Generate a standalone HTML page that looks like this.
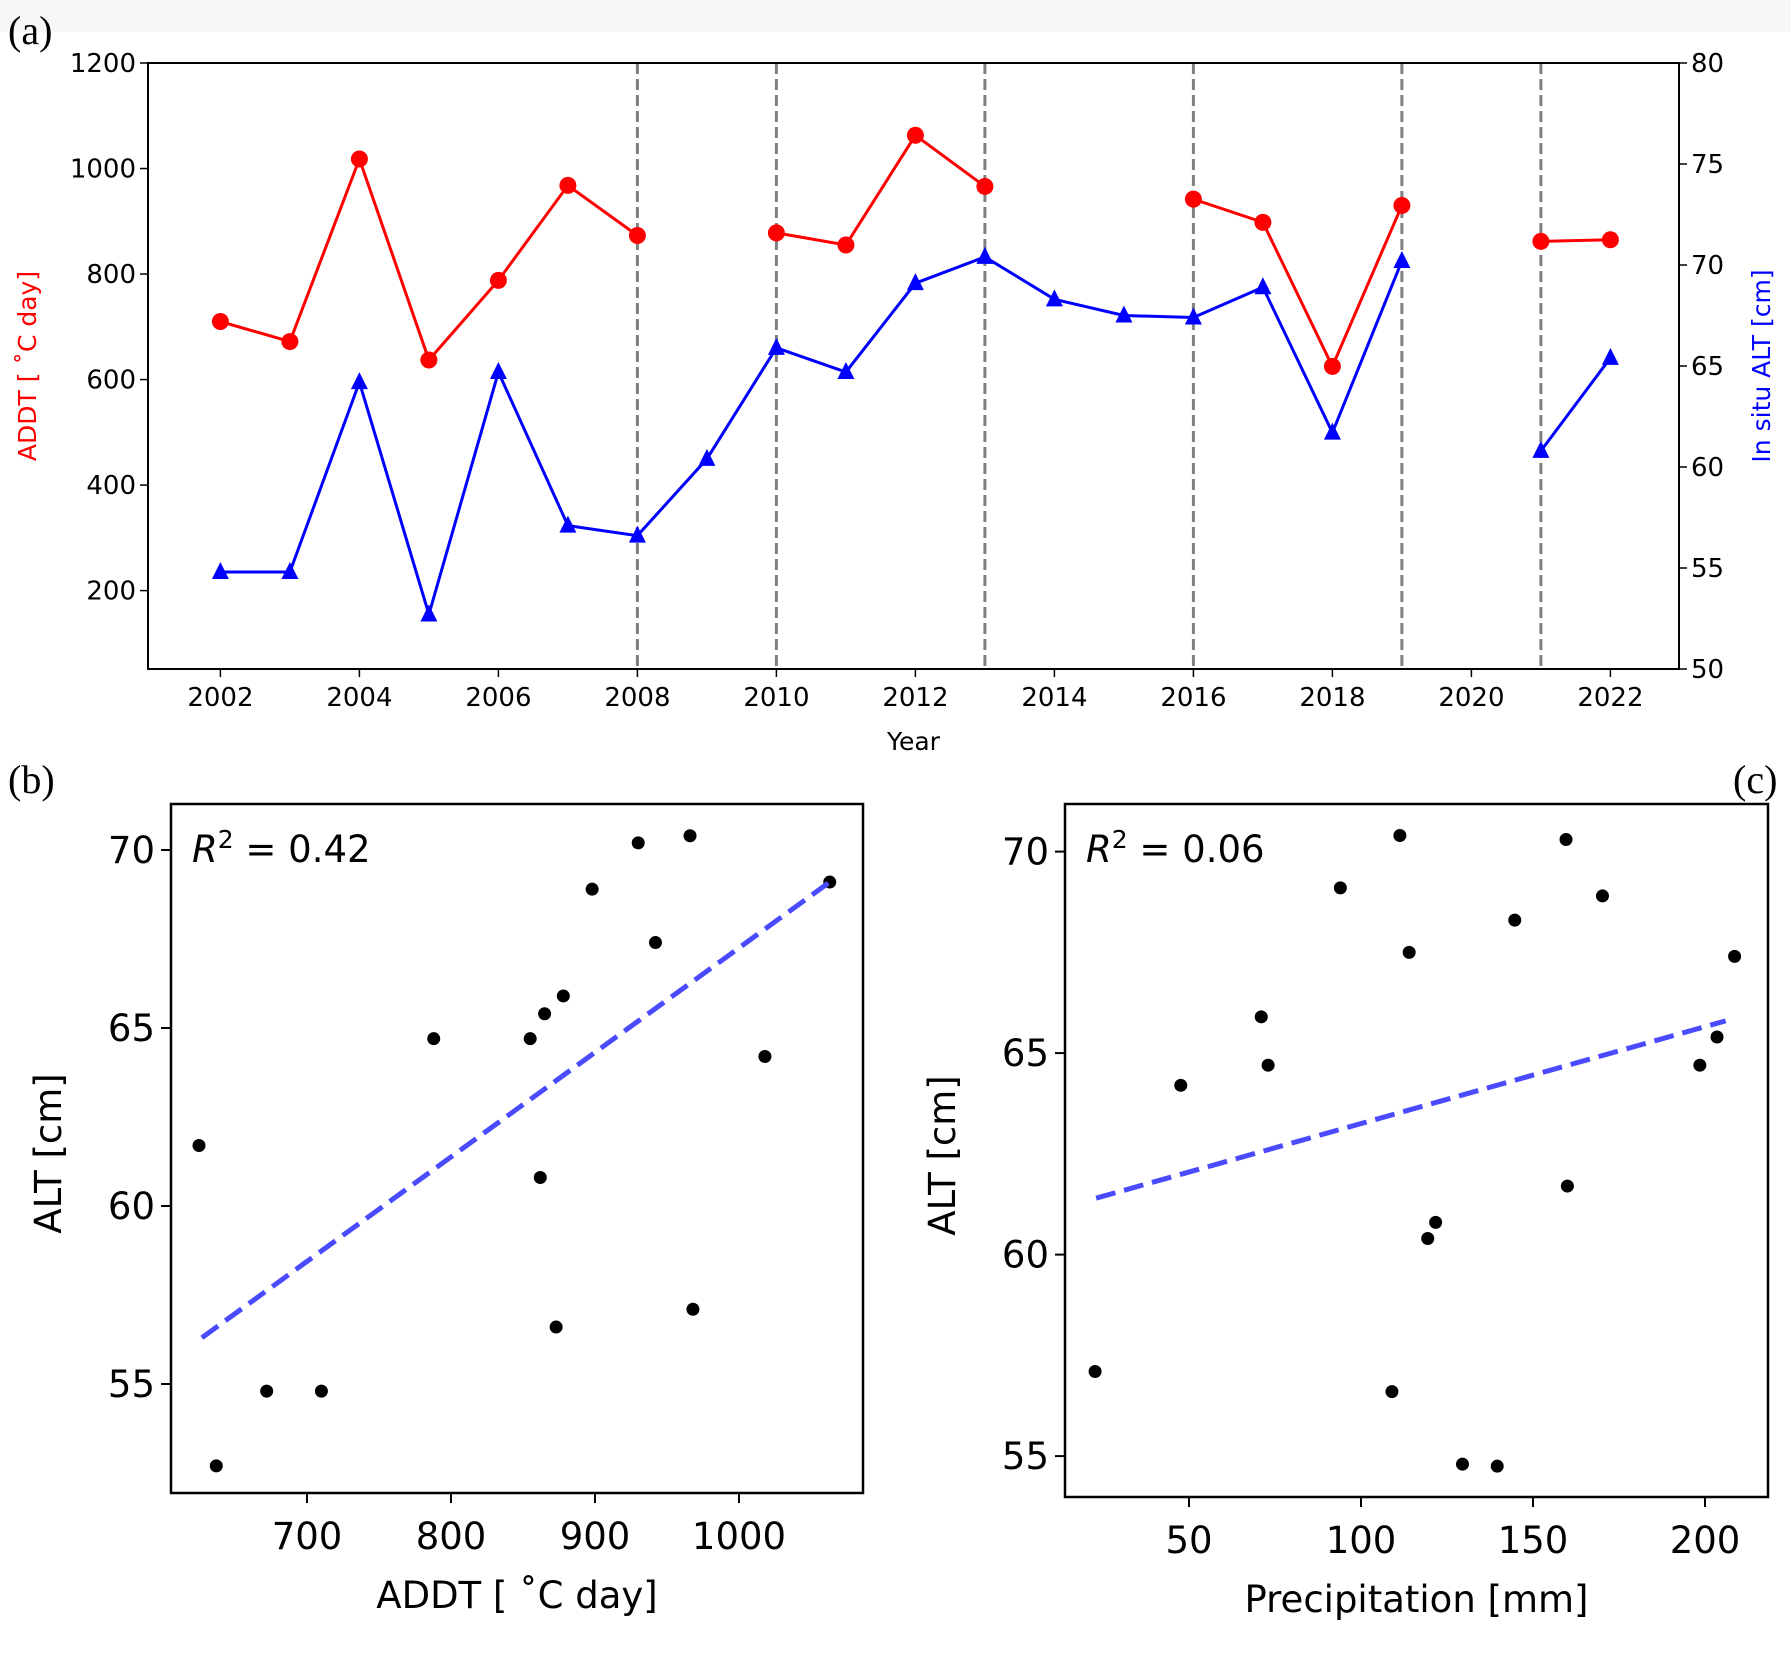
<!DOCTYPE html>
<html><head><meta charset="utf-8">
<style>
html,body{margin:0;padding:0;background:#fff;}
svg{display:block;}
text{font-family:"DejaVu Sans","Liberation Sans",sans-serif;}
.serif{font-family:"Liberation Serif",serif;}
</style></head>
<body>
<svg id="fig" width="1791" height="1657" viewBox="0 0 1791 1657" xmlns="http://www.w3.org/2000/svg">
<rect x="0" y="0" width="1791" height="32" fill="#f7f7f7"/>
<text class="serif" x="8" y="44" font-size="40">(a)</text>
<text class="serif" x="8" y="793" font-size="40">(b)</text>
<text class="serif" x="1733" y="793" font-size="40">(c)</text>
</svg>
<script>
const years=[2002,2003,2004,2005,2006,2007,2008,2009,2010,2011,2012,2013,2014,2015,2016,2017,2018,2019,2020,2021,2022];
const addt=[710,672,1018,637,788,968,873,null,878,855,1063,966,null,null,942,898,625,930,null,862,865];
const alt=[54.8,54.8,64.2,52.7,64.7,57.1,56.6,60.4,65.9,64.7,69.1,70.4,68.3,67.5,67.4,68.9,61.7,70.2,null,60.8,65.4];
const eventYears=[2008,2010,2013,2016,2019,2021];
const yearTicks=[2002,2004,2006,2008,2010,2012,2014,2016,2018,2020,2022];
const addtTicks=[200,400,600,800,1000,1200];
const altTicksA=[50,55,60,65,70,75,80];
const addtTicksB=[700,800,900,1000];
const altTicksBC=[55,60,65,70];
const fitB=[[627,56.3],[1063,69.1]];
const precip=[22.7,47.6,71,73,94,111.3,109,114,119.4,121.7,129.5,139.6,144.7,159.6,160,170.2,198.5,203.5,208.6];
const altC=[57.1,64.2,65.9,64.7,69.1,70.4,56.6,67.5,60.4,60.8,54.8,54.75,68.3,70.3,61.7,68.9,64.7,65.4,67.4];
const precipTicks=[50,100,150,200];
const fitC=[[23,61.4],[206,65.8]];

const svg=document.getElementById('fig');
const NS='http://www.w3.org/2000/svg';
function el(tag,attrs,parent){const e=document.createElementNS(NS,tag);for(const k in attrs)e.setAttribute(k,attrs[k]);(parent||svg).appendChild(e);return e;}
function txt(s,attrs,parent){const e=el('text',attrs,parent);e.textContent=s;return e;}

// ---------- Panel A ----------
const A={l:148,r:1679,t:63,b:669};
const ax=y=>220.4+(y-2002)*69.5;
const ayL=v=>63+(1200-v)*0.5276;
const ayR=v=>A.b-(v-50)*(A.b-A.t)/30;
const ga=el('g',{});


eventYears.forEach(y=>{const l=el('line',{x1:ax(y),x2:ax(y),y1:A.t,y2:A.b,stroke:'#808080','stroke-width':3,'stroke-dasharray':'11,5'},ga);

});
function segs(arr,yf){const out=[];let cur=[];arr.forEach((v,i)=>{if(v==null){if(cur.length)out.push(cur);cur=[];}else cur.push([ax(years[i]),yf(v)]);});if(cur.length)out.push(cur);return out;}
segs(addt,ayL).forEach(s=>{const p=el('polyline',{points:s.map(q=>q.join(',')).join(' '),fill:'none',stroke:'#ff0000','stroke-width':3},ga);

});
segs(alt,ayR).forEach(s=>{const p=el('polyline',{points:s.map(q=>q.join(',')).join(' '),fill:'none',stroke:'#0000ff','stroke-width':3},ga);

});
addt.forEach((v,i)=>{if(v==null)return;const c=el('circle',{cx:ax(years[i]),cy:ayL(v),r:8.5,fill:'#ff0000'},ga);

});
alt.forEach((v,i)=>{if(v==null)return;const x=ax(years[i]),y=ayR(v);const t=el('polygon',{points:`${x},${y-10} ${x-8.5},${y+7} ${x+8.5},${y+7}`,fill:'#0000ff'},ga);

});
el('rect',{x:A.l,y:A.t,width:A.r-A.l,height:A.b-A.t,fill:'none',stroke:'#000','stroke-width':2},ga);
yearTicks.forEach(y=>{el('line',{x1:ax(y),x2:ax(y),y1:A.b,y2:A.b+8,stroke:'#000','stroke-width':1.5},ga);
const t=txt(String(y),{x:ax(y),y:A.b+37,'font-size':26,'text-anchor':'middle'},ga);

});
addtTicks.forEach(v=>{el('line',{x1:A.l-8,x2:A.l,y1:ayL(v),y2:ayL(v),stroke:'#000','stroke-width':1.5},ga);
const t=txt(String(v),{x:A.l-12,y:ayL(v)+9,'font-size':26,'text-anchor':'end'},ga);

});
altTicksA.forEach(v=>{el('line',{x1:A.r,x2:A.r+8,y1:ayR(v),y2:ayR(v),stroke:'#000','stroke-width':1.5},ga);
const t=txt(String(v),{x:A.r+12,y:ayR(v)+9,'font-size':26},ga);

});
let t1=txt('Year',{x:(A.l+A.r)/2,y:750,'font-size':25,'text-anchor':'middle'},ga);


let t2=txt('ADDT [ ˚C day]',{x:0,y:0,'font-size':25,'text-anchor':'middle',fill:'#ff0000',transform:`translate(36,${(A.t+A.b)/2}) rotate(-90)`},ga);


let t3=txt('In situ ALT [cm]',{x:0,y:0,'font-size':25,'text-anchor':'middle',fill:'#0000ff',transform:`translate(1770,${(A.t+A.b)/2}) rotate(-90)`},ga);



// ---------- Scatter helper ----------
function scatter(cfg){
 const g=el('g',{});
 
 
 const P=cfg.P;
 cfg.xs.forEach((xv,i)=>{const c=el('circle',{cx:cfg.sx(xv),cy:cfg.sy(cfg.ys[i]),r:6.5,fill:'#000'},g);
 
 });
 const f=el('line',{x1:cfg.sx(cfg.fit[0][0]),y1:cfg.sy(cfg.fit[0][1]),x2:cfg.sx(cfg.fit[1][0]),y2:cfg.sy(cfg.fit[1][1]),stroke:'#4a4aff','stroke-width':5,'stroke-dasharray':'20,9'},g);
 
 
 el('rect',{x:P.l,y:P.t,width:P.r-P.l,height:P.b-P.t,fill:'none',stroke:'#000','stroke-width':2.5},g);
 cfg.xt.forEach(v=>{el('line',{x1:cfg.sx(v),x2:cfg.sx(v),y1:P.b,y2:P.b+10,stroke:'#000','stroke-width':2},g);
 const t=txt(String(v),{x:cfg.sx(v),y:P.b+56,'font-size':37,'text-anchor':'middle'},g);
 
 });
 cfg.yt.forEach(v=>{el('line',{x1:P.l-10,x2:P.l,y1:cfg.sy(v),y2:cfg.sy(v),stroke:'#000','stroke-width':2},g);
 const t=txt(String(v),{x:P.l-16,y:cfg.sy(v)+13,'font-size':37,'text-anchor':'end'},g);
 
 });
 const xl=txt(cfg.xlabel,{x:(P.l+P.r)/2,y:P.b+115,'font-size':37,'text-anchor':'middle'},g);
 
 
 const yl=txt('ALT [cm]',{x:0,y:0,'font-size':37,'text-anchor':'middle',transform:`translate(${P.l-110},${(P.t+P.b)/2+5}) rotate(-90)`},g);
 
 
 const r=el('text',{x:P.l+21,y:P.t+58,'font-size':37},g);
 
 
 const ri=document.createElementNS(NS,'tspan');ri.setAttribute('font-style','italic');ri.textContent='R';r.appendChild(ri);
 const rs=document.createElementNS(NS,'tspan');rs.setAttribute('font-size','25');rs.setAttribute('dy','-14');rs.textContent='2';r.appendChild(rs);
 const rr=document.createElementNS(NS,'tspan');rr.setAttribute('dy','14');rr.textContent=' = '+cfg.r2;r.appendChild(rr);
}
const bx=[],by=[];
addt.forEach((v,i)=>{if(v!=null&&alt[i]!=null){bx.push(v);by.push(alt[i]);}});
scatter({name:'panel-b-scatter',P:{l:171,r:863,t:804,b:1493},xs:bx,ys:by,
 sx:v=>307+(v-700)*1.44,sy:v=>850+(70-v)*35.6,xt:addtTicksB,yt:altTicksBC,fit:fitB,xlabel:'ADDT [ ˚C day]',r2:'0.42'});
scatter({name:'panel-c-scatter',P:{l:1065,r:1768,t:804,b:1497},xs:precip,ys:altC,
 sx:v=>1189+(v-50)*3.44,sy:v=>851.6+(70-v)*40.3,xt:precipTicks,yt:altTicksBC,fit:fitC,xlabel:'Precipitation [mm]',r2:'0.06'});
</script>
</body></html>
